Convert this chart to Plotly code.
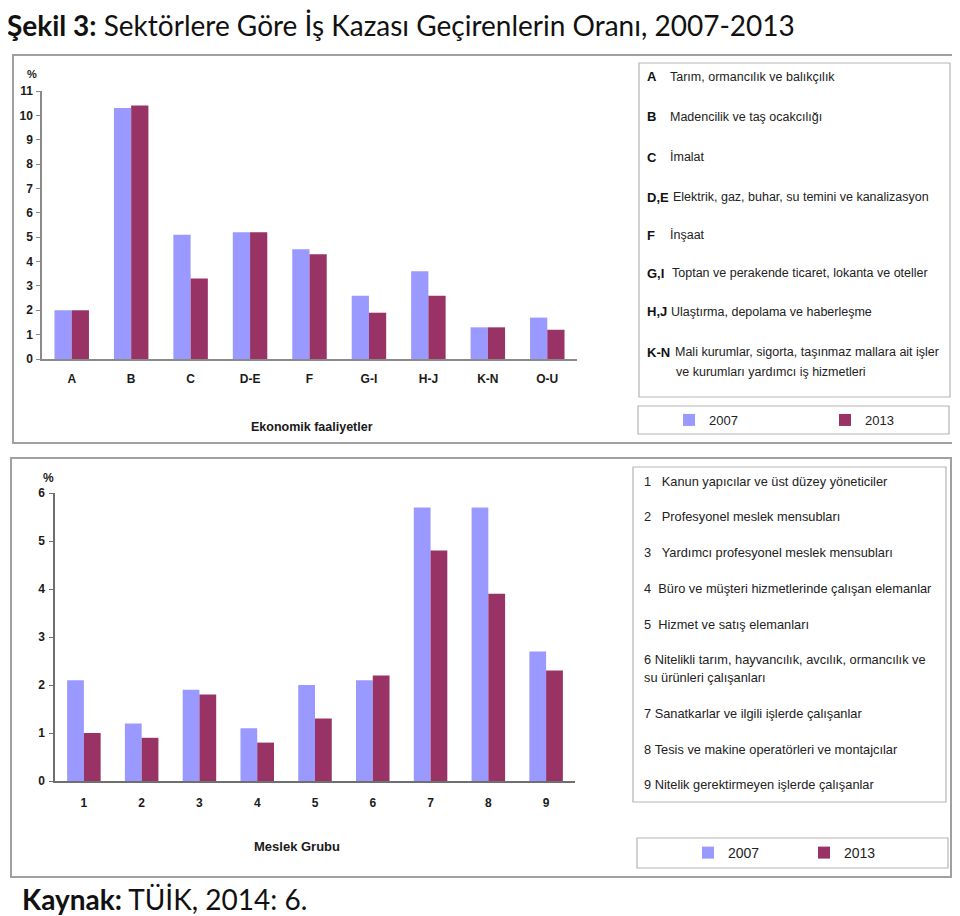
import plotly.graph_objects as go

# ---------------- data ----------------
sector_codes = ["A", "B", "C", "D-E", "F", "G-I", "H-J", "K-N", "O-U"]
sector_2007 = [2.0, 10.3, 5.1, 5.2, 4.5, 2.6, 3.6, 1.3, 1.7]
sector_2013 = [2.0, 10.4, 3.3, 5.2, 4.3, 1.9, 2.6, 1.3, 1.2]

occupation_codes = ["1", "2", "3", "4", "5", "6", "7", "8", "9"]
occupation_2007 = [2.1, 1.2, 1.9, 1.1, 2.0, 2.1, 5.7, 5.7, 2.7]
occupation_2013 = [1.0, 0.9, 1.8, 0.8, 1.3, 2.2, 4.8, 3.9, 2.3]

series_names = ["2007", "2013"]
series_colors = ["#9999FF", "#993366"]

sector_keys = ["A", "B", "C", "D,E", "F", "G,I", "H,J", "K-N", ""]
sector_descs = [
    "Tarım, ormancılık ve balıkçılık",
    "Madencilik ve taş ocakcılığı",
    "İmalat",
    "Elektrik, gaz, buhar, su temini ve kanalizasyon",
    "İnşaat",
    "Toptan ve perakende ticaret, lokanta ve oteller",
    "Ulaştırma, depolama ve haberleşme",
    "Mali kurumlar, sigorta, taşınmaz mallara ait işler",
    "ve kurumları yardımcı iş hizmetleri",
]

occupation_lines = [
    "1\u00a0\u00a0\u00a0Kanun yapıcılar ve üst düzey yöneticiler",
    "2\u00a0\u00a0\u00a0Profesyonel meslek mensubları",
    "3\u00a0\u00a0\u00a0Yardımcı profesyonel meslek mensubları",
    "4\u00a0\u00a0Büro ve müşteri hizmetlerinde çalışan elemanlar",
    "5\u00a0\u00a0Hizmet ve satış elemanları",
    "6\u00a0Nitelikli tarım, hayvancılık, avcılık, ormancılık ve",
    "su ürünleri çalışanları",
    "7\u00a0Sanatkarlar ve ilgili işlerde çalışanlar",
    "8\u00a0Tesis ve makine operatörleri ve montajcılar",
    "9\u00a0Nitelik gerektirmeyen işlerde çalışanlar",
]

title_bold = "Şekil 3:"
title_rest = "Sektörlere Göre İş Kazası Geçirenlerin Oranı, 2007-2013"
source_bold = "Kaynak:"
source_rest = "TÜİK, 2014: 6."

# ---------------- helpers (reference pixel -> paper) ----------------
# the page body adds an 8px offset, so the figure is drawn 8px smaller and shifted
OFF = 8
W, H = 960 - OFF, 916 - OFF
def px(x):
    return (x - OFF) / W
def py(y):
    return 1 - (y - OFF) / H

SANS = "Liberation Sans, Arial, sans-serif"
TITLEF = "Lato, Open Sans, sans-serif"
AXIS_COLOR = "#8a8a8a"

fig = go.Figure()

top_legends = ["legend", "legend2"]
bot_legends = ["legend3", "legend4"]
# top chart bars
for name, vals, col, lg in zip(series_names, [sector_2007, sector_2013], series_colors, top_legends):
    fig.add_trace(go.Bar(x=sector_codes, y=vals, name=name, marker=dict(color=col, line=dict(width=0)),
                         xaxis="x", yaxis="y", legend=lg))
# bottom chart bars
for name, vals, col, lg in zip(series_names, [occupation_2007, occupation_2013], series_colors, bot_legends):
    fig.add_trace(go.Bar(x=occupation_codes, y=vals, name=name, marker=dict(color=col, line=dict(width=0)),
                         xaxis="x2", yaxis="y2", legend=lg))

tickfont = dict(family=SANS, size=12, color="#1a1a1a", weight="bold")

def legend_at(x, y, size):
    return dict(orientation="h", x=px(x), y=py(y), xanchor="left", yanchor="middle",
                bgcolor="rgba(0,0,0,0)", itemwidth=30,
                font=dict(family=SANS, size=size, color="#222"),
                itemclick=False, itemdoubleclick=False)

fig.update_layout(
    width=W, height=H,
    margin=dict(l=0, r=0, t=0, b=0, autoexpand=False),
    paper_bgcolor="white", plot_bgcolor="white",
    barmode="group", bargap=0.42, bargroupgap=0,
    xaxis=dict(domain=[px(42), px(577)], anchor="y", type="category", range=[-0.5, 8.5],
               showline=True, linecolor=AXIS_COLOR, linewidth=1.5, showgrid=False, zeroline=False,
               ticks="", tickfont=tickfont, ticklabelstandoff=8, fixedrange=True),
    yaxis=dict(domain=[py(359), py(91)], anchor="x", range=[0, 11], dtick=1,
               showline=True, linecolor=AXIS_COLOR, linewidth=1.5, showgrid=False, zeroline=False,
               ticks="outside", ticklen=4, tickcolor=AXIS_COLOR, tickfont=tickfont,
               ticklabelstandoff=1, fixedrange=True),
    xaxis2=dict(domain=[px(55), px(575)], anchor="y2", type="category", range=[-0.5, 8.5],
                showline=True, linecolor="#6f6f6f", linewidth=2, showgrid=False, zeroline=False,
                ticks="", tickfont=tickfont, ticklabelstandoff=10, fixedrange=True),
    yaxis2=dict(domain=[py(781), py(493)], anchor="x2", range=[0, 6], dtick=1,
                showline=True, linecolor="#6f6f6f", linewidth=1.5, showgrid=False, zeroline=False,
                ticks="outside", ticklen=4, tickcolor="#6f6f6f", tickfont=tickfont,
                ticklabelstandoff=2, fixedrange=True),
    legend=legend_at(669, 420, 13),
    legend2=legend_at(825, 420, 13),
    legend3=legend_at(688, 853, 14),
    legend4=legend_at(804, 853, 14),
    showlegend=True,
)

shapes = []
def rect(x0, y0, x1, y1, color="#a6a6a6", width=1.5):
    shapes.append(dict(type="rect", xref="paper", yref="paper", x0=px(x0), x1=px(x1), y0=py(y0), y1=py(y1),
                       line=dict(color=color, width=width), fillcolor="rgba(0,0,0,0)", layer="below"))
# top panel
rect(13, 55, 955, 443, "#a0a0a0", 2)
rect(639, 63, 950, 397, "#b5b5b5", 1.2)
rect(638, 406, 949, 434, "#b5b5b5", 1.2)
# bottom panel
rect(11, 458, 951, 877, "#a0a0a0", 2)
rect(633, 467, 946, 802, "#b5b5b5", 1.2)
rect(637, 838, 948, 868, "#b5b5b5", 1.2)
fig.update_layout(shapes=shapes)

ann = []
def text(x, y, s, size=13, family=SANS, color="#1a1a1a", xanchor="left", yanchor="middle", bold=False):
    ann.append(dict(xref="paper", yref="paper", x=px(x), y=py(y), text=s, showarrow=False,
                    xanchor=xanchor, yanchor=yanchor,
                    font=dict(family=family, size=size, color=color, weight="bold" if bold else "normal")))

# title and source
text(OFF - 3, OFF - 2, f"<b>{title_bold}</b> {title_rest}", size=28, family=TITLEF, color="#111",
     yanchor="top")
text(20, 899, f"<b>{source_bold}</b> {source_rest}", size=28, family=TITLEF, color="#111")

# axis labels
text(32, 74, "%", size=11, family=SANS, bold=True, xanchor="center")
text(312, 427, "Ekonomik faaliyetler", size=12.5, family=SANS, bold=True, xanchor="center")
text(48, 478, "%", size=12, family=SANS, bold=True, xanchor="center")
text(297, 846, "Meslek Grubu", size=13, family=SANS, bold=True, xanchor="center")

# top description list
top_ys = [77, 117, 157, 197, 235, 273, 312, 352, 372]
desc_xs = [668, 668, 668, 671, 668, 670, 669, 673, 674]
for key, desc, yy, dx in zip(sector_keys, sector_descs, top_ys, desc_xs):
    if key:
        text(645, yy, key, size=13, family=SANS, bold=True, color="#111")
    text(dx, yy, desc, size=12.5, family=SANS, color="#222")

# bottom description list
bot_ys = [481, 516, 552, 588, 624, 659, 677, 713, 749, 784]
for line, yy in zip(occupation_lines, bot_ys):
    text(642, yy, line, size=12.8, family=SANS, color="#222")

fig.update_layout(annotations=ann)

fig.write_html("out.html")
